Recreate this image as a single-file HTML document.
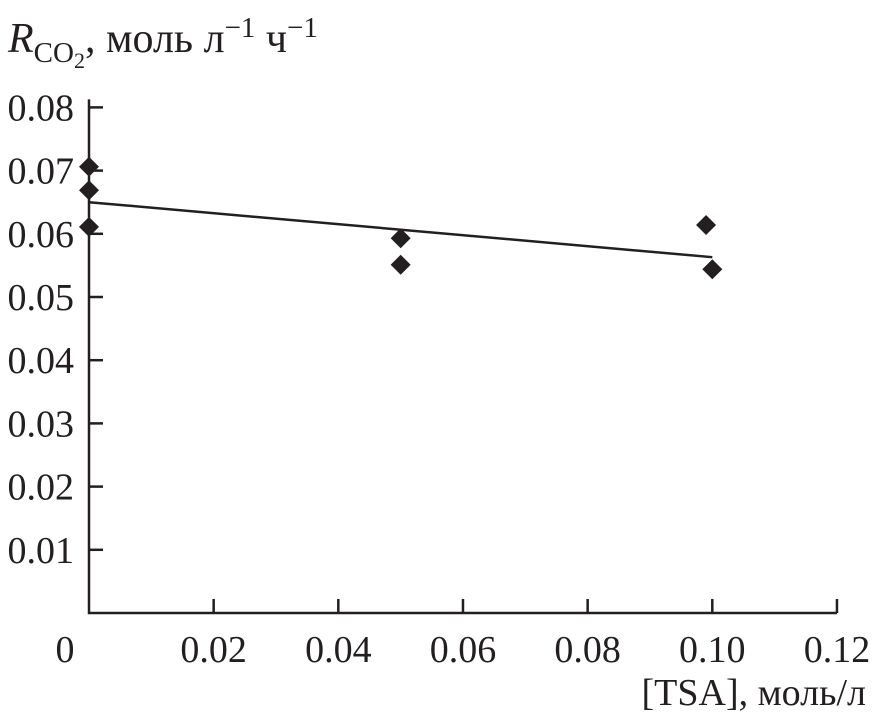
<!DOCTYPE html>
<html><head><meta charset="utf-8"><style>
body{margin:0;background:#fff}
svg text{font-family:"Liberation Serif",serif;fill:#231f20}
</style></head><body>
<svg width="872" height="723">
<g id="plot"></g>
<text x="8" y="52" font-size="42"><tspan font-style="italic">R</tspan><tspan font-size="29" dy="10">CO</tspan><tspan font-size="22" dy="6">2</tspan><tspan dy="-16">, моль л</tspan><tspan font-size="29" dy="-15">−1</tspan><tspan dy="15"> ч</tspan><tspan font-size="29" dy="-15">−1</tspan></text>
<text x="866" y="705" font-size="38" text-anchor="end">[TSA], моль/л</text>
</svg>
<script>
const xTicks=[0,0.02,0.04,0.06,0.08,0.10,0.12];
const xTickLabels=["0","0.02","0.04","0.06","0.08","0.10","0.12"];
const yTicks=[0.01,0.02,0.03,0.04,0.05,0.06,0.07,0.08];
const yTickLabels=["0.01","0.02","0.03","0.04","0.05","0.06","0.07","0.08"];
const pointX=[0,0,0,0.05,0.05,0.099,0.1];
const pointY=[0.0706,0.0669,0.0611,0.0593,0.0551,0.0614,0.0544];
const fitX=[0,0.1];
const fitY=[0.0650,0.0563];
const sx=v=>89+v*6233, sy=v=>613-v*6320;
const g=document.getElementById('plot');const NS='http://www.w3.org/2000/svg';
function mk(t,a){const e=document.createElementNS(NS,t);for(const k in a)e.setAttribute(k,a[k]);g.appendChild(e);return e;}
let e=mk('path',{d:`M${sx(0)},${sy(0.08)-8}V613H${sx(0.12)}`,stroke:'#231f20','stroke-width':2.5,fill:'none'});


xTicks.forEach((v,i)=>{
 if(i>0){const t=mk('line',{x1:sx(v),x2:sx(v),y1:613,y2:599,stroke:'#231f20','stroke-width':2.5});
 
 }
 const l=mk('text',{x:i==0?65:sx(v),y:662,'font-size':38,'text-anchor':'middle'});l.textContent=xTickLabels[i];
 
 
});
yTicks.forEach((v,i)=>{
 const t=mk('line',{x1:89,x2:103,y1:sy(v),y2:sy(v),stroke:'#231f20','stroke-width':2.5});
 
 
 const l=mk('text',{x:74,y:sy(v)+13,'font-size':38,'text-anchor':'end'});l.textContent=yTickLabels[i];
 
 
});
const fl=mk('line',{x1:sx(fitX[0]),y1:sy(fitY[0]),x2:sx(fitX[1]),y2:sy(fitY[1]),stroke:'#231f20','stroke-width':2.5});


pointX.forEach((v,i)=>{
 const x=sx(v),y=sy(pointY[i]);
 const p=mk('path',{d:`M${x},${y-10}L${x+10},${y}L${x},${y+10}L${x-10},${y}Z`,fill:'#231f20'});
 
 
});
</script>
</body></html>
